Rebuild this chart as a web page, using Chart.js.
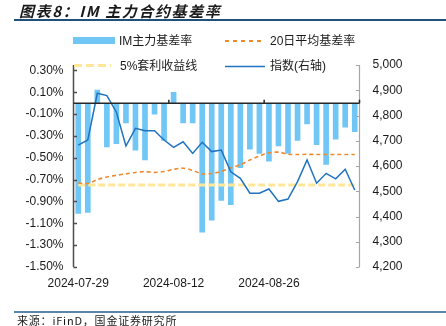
<!DOCTYPE html>
<html>
<head>
<meta charset="utf-8">
<script src="https://cdn.jsdelivr.net/npm/chart.js@4"></script>
<style>
  body { margin: 0; background: #fff; }
  #wrap { position: relative; width: 446px; height: 326px; overflow: hidden;
          font-family: "Liberation Sans", Arial, "Noto Sans CJK SC", sans-serif; color: #1a1a1a; }
  #wrap canvas { position: absolute; left: 0; top: 0; }
  .title { position: absolute; left: 19px; top: 0px; font: italic 700 15px "Noto Sans CJK SC", sans-serif;
           letter-spacing: 1.6px; color: #1a1a1a; white-space: nowrap; }
  .rule { position: absolute; left: 14px; right: 0; height: 2px; }
  .src { position: absolute; left: 17px; font: 11px/14px "Noto Sans CJK SC", sans-serif;
         letter-spacing: 0.8px; white-space: nowrap; }
  .lg { position: absolute; font-size: 12px; line-height: 14px; white-space: nowrap; }
</style>
</head>
<body>
<div id="wrap">
  <canvas id="basisChart" width="446" height="326"></canvas>
  <div class="title">图表8：IM 主力合约基差率</div>
  <div class="rule" style="top:19px;background:#21507a"></div>

  <svg width="446" height="80" style="position:absolute;left:0;top:0">
    <rect x="73" y="37" width="42" height="7" fill="#70c7f6"/>
    <line x1="225" y1="41" x2="264" y2="41" stroke="#ee8a2e" stroke-width="1.8" stroke-dasharray="4,4"/>
    <line x1="74" y1="65.5" x2="111" y2="65.5" stroke="#ffe699" stroke-width="3" stroke-dasharray="8,4"/>
    <line x1="225" y1="66.5" x2="265" y2="66.5" stroke="#1f73c0" stroke-width="1.5"/>
  </svg>
  <div class="lg" style="left:119px;top:34px">IM主力基差率</div>
  <div class="lg" style="left:270px;top:34px">20日平均基差率</div>
  <div class="lg" style="left:120px;top:59px">5%套利收益线</div>
  <div class="lg" style="left:270px;top:59px">指数(右轴)</div>

  <div class="rule" style="top:311px;background:#5a87a8"></div>
  <div class="src" style="top:313px">来源：iFinD，国金证券研究所</div>
</div>
<script>
const dates = [
  "2024-07-29", "2024-07-30", "2024-07-31", "2024-08-01", "2024-08-02",
  "2024-08-05", "2024-08-06", "2024-08-07", "2024-08-08", "2024-08-09",
  "2024-08-12", "2024-08-13", "2024-08-14", "2024-08-15", "2024-08-16",
  "2024-08-19", "2024-08-20", "2024-08-21", "2024-08-22", "2024-08-23",
  "2024-08-26", "2024-08-27", "2024-08-28", "2024-08-29", "2024-08-30",
  "2024-09-02", "2024-09-03", "2024-09-04", "2024-09-05", "2024-09-06"
];

// IM main contract basis rate, %
const basis = [
  -1.01, -1.00, 0.12, -0.40, -0.37, -0.18, -0.43, -0.52, -0.10, -0.34,
  0.10, -0.18, -0.18, -1.18, -1.07, -0.89, -0.93, -0.59, -0.42, -0.46,
  -0.53, -0.39, -0.46, -0.34, -0.19, -0.38, -0.56, -0.33, -0.22, -0.26
];

// 20-day average basis rate, %
const basisMA20 = [
  -0.73, -0.735, -0.70, -0.675, -0.66, -0.647, -0.634, -0.626, -0.634, -0.626,
  -0.606, -0.595, -0.615, -0.647, -0.643, -0.625, -0.592, -0.565, -0.52, -0.483,
  -0.455, -0.448, -0.467, -0.47, -0.468, -0.47, -0.47, -0.47, -0.47, -0.47
];

// 5% arbitrage return threshold, %
const arbLine = [
  -0.75, -0.75, -0.75, -0.75, -0.75, -0.75, -0.75, -0.75, -0.75, -0.75,
  -0.75, -0.75, -0.75, -0.75, -0.75, -0.75, -0.75, -0.75, -0.75, -0.75,
  -0.75, -0.75, -0.75, -0.75, -0.75, -0.75, -0.75, -0.75, -0.75, -0.75
];

// CSI 1000 index close (right axis)
const indexClose = [
  4683, 4703, 4888, 4879, 4813, 4679, 4749, 4740, 4740, 4703,
  4674, 4696, 4650, 4694, 4657, 4663, 4577, 4551, 4492, 4492,
  4509, 4460, 4469, 4538, 4624, 4532, 4571, 4549, 4587, 4505
];

const pctTicks = [-1.5, -1.3, -1.1, -0.9, -0.7, -0.5, -0.3, -0.1, 0.1, 0.3];
const idxTicks = [4200, 4300, 4400, 4500, 4600, 4700, 4800, 4900, 5000];

const FONT = '"Liberation Sans", Arial, "Noto Sans CJK SC", sans-serif';

// axis lines with inward ticks, plus the zero line
const axisLines = {
  id: 'axisLines',
  afterDatasetsDraw(chart) {
    const { ctx, chartArea: a, scales: { x, y, y2 } } = chart;
    ctx.save();

    ctx.strokeStyle = '#4d4d4d';
    ctx.lineWidth = 1.5;
    ctx.beginPath();
    ctx.moveTo(a.left, a.top);
    ctx.lineTo(a.left, a.bottom);
    pctTicks.forEach(v => {
      const py = Math.round(y.getPixelForValue(v)) + 0.5;
      ctx.moveTo(a.left, py);
      ctx.lineTo(a.left + 3.5, py);
    });
    ctx.stroke();

    ctx.strokeStyle = '#a6a6a6';
    ctx.lineWidth = 1.2;
    ctx.beginPath();
    ctx.moveTo(a.right, a.top);
    ctx.lineTo(a.right, a.bottom);
    idxTicks.forEach(v => {
      const py = Math.round(y2.getPixelForValue(v)) + 0.5;
      ctx.moveTo(a.right, py);
      ctx.lineTo(a.right - 3.5, py);
    });
    ctx.stroke();

    const z = y.getPixelForValue(0);
    ctx.strokeStyle = '#262626';
    ctx.lineWidth = 1.5;
    ctx.beginPath();
    ctx.moveTo(a.left, z);
    ctx.lineTo(a.right, z);
    [9.5, 19.5, 29.5].forEach(i => {
      const px = x.getPixelForValue(i);
      ctx.moveTo(px, z);
      ctx.lineTo(px, z - 3.5);
    });
    ctx.stroke();
    ctx.restore();
  }
};

Chart.defaults.font.family = FONT;
Chart.defaults.font.size = 12;
Chart.defaults.color = '#1a1a1a';

new Chart(document.getElementById('basisChart'), {
  data: {
    labels: dates,
    datasets: [
      {
        type: 'line', label: '指数(右轴)', data: indexClose, yAxisID: 'y2', order: 1,
        borderColor: '#1f73c0', borderWidth: 1.5, pointRadius: 0, tension: 0
      },
      {
        type: 'line', label: '20日平均基差率', data: basisMA20, yAxisID: 'y', order: 2,
        borderColor: '#ee8a2e', borderWidth: 1.6, borderDash: [4, 3], pointRadius: 0, tension: 0.3
      },
      {
        type: 'line', label: '5%套利收益线', data: arbLine, yAxisID: 'y', order: 3,
        borderColor: '#ffe699', borderWidth: 3, borderDash: [7, 3], pointRadius: 0
      },
      {
        type: 'bar', label: 'IM主力基差率', data: basis, yAxisID: 'y', order: 4,
        backgroundColor: '#70c7f6', barThickness: 5
      }
    ]
  },
  options: {
    responsive: false,
    animation: false,
    layout: { padding: { top: 65, bottom: 34, left: 0, right: 0 } },
    plugins: { legend: { display: false }, tooltip: { enabled: false } },
    scales: {
      x: {
        offset: true,
        grid: { display: false, drawTicks: false },
        border: { display: false },
        ticks: {
          autoSkip: false, maxRotation: 0, padding: 9,
          callback: (v, i) => (i % 10 === 0 ? dates[i] : '')
        },
        afterFit: s => { s.height = 25; }
      },
      y: {
        position: 'left', min: -1.5, max: 0.35,
        grid: { display: false, drawTicks: false },
        border: { display: false },
        afterBuildTicks: s => { s.ticks = pctTicks.map(v => ({ value: v })); },
        ticks: { padding: 10, callback: v => v.toFixed(2) + '%' },
        afterFit: s => { s.width = 73.5; }
      },
      y2: {
        position: 'right', min: 4200, max: 5000,
        grid: { display: false, drawTicks: false },
        border: { display: false },
        afterBuildTicks: s => { s.ticks = idxTicks.map(v => ({ value: v })); },
        ticks: { padding: 13, callback: v => v.toLocaleString('en-US') },
        afterFit: s => { s.width = 86.5; }
      }
    }
  },
  plugins: [axisLines]
});
</script>
</body>
</html>
